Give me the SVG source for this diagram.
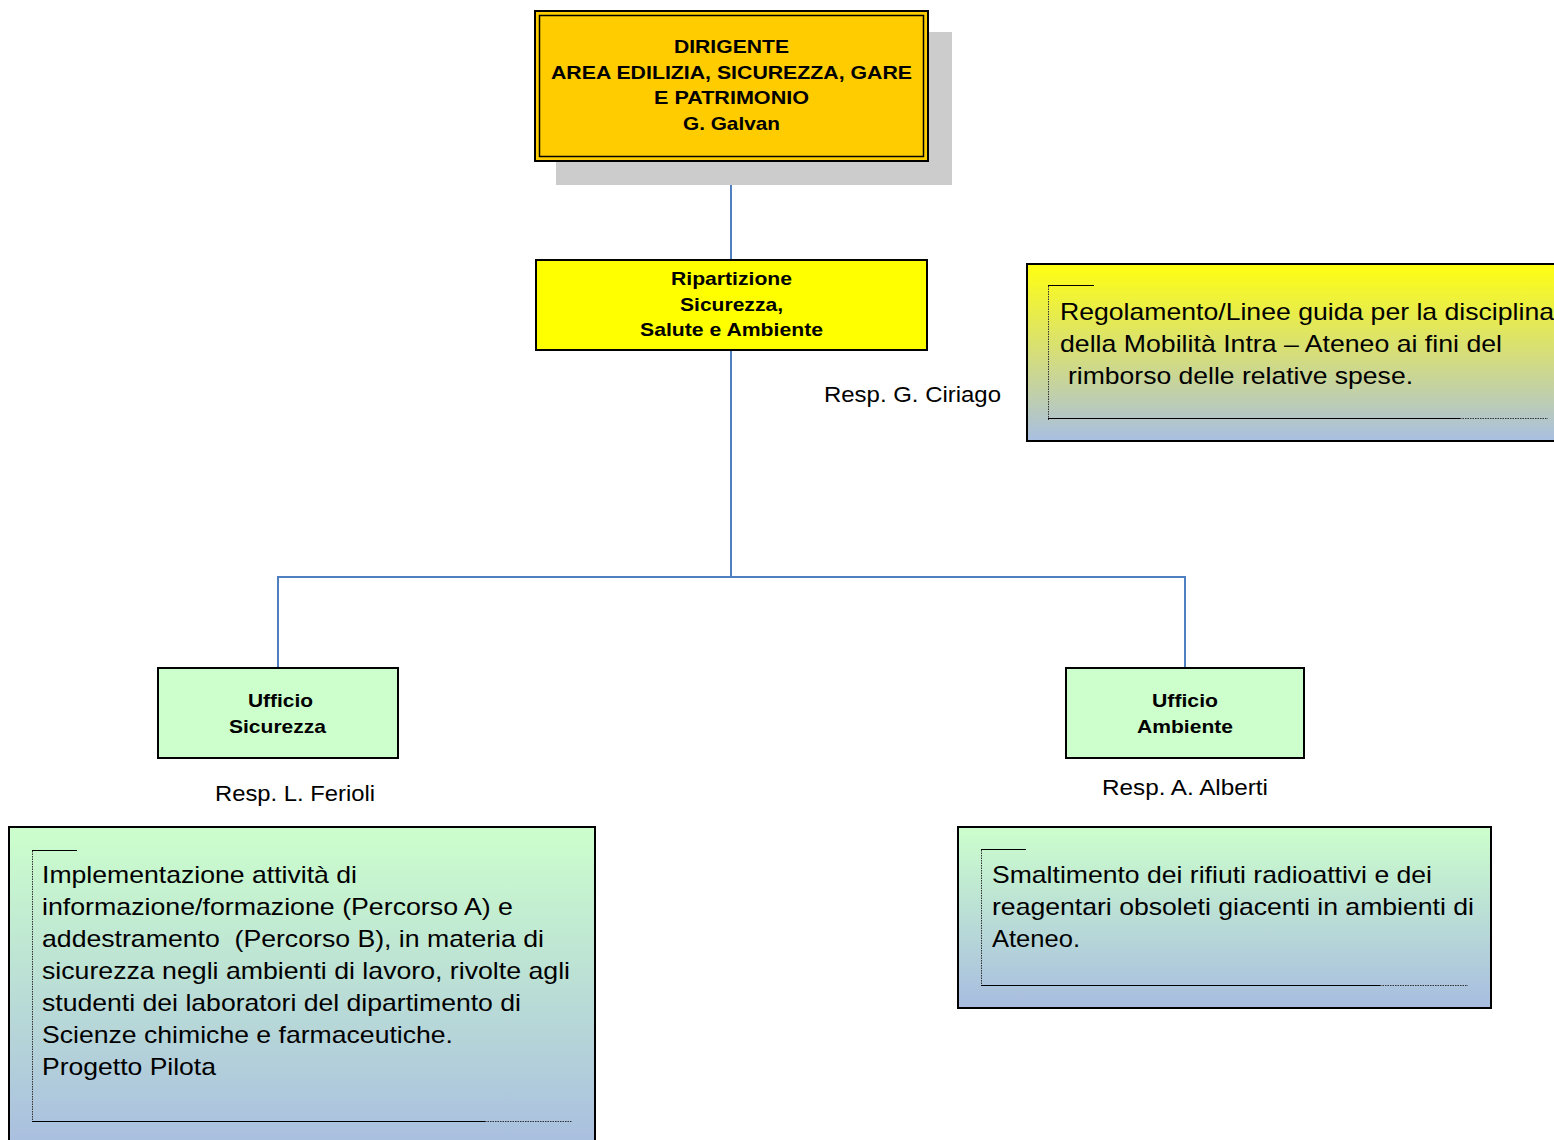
<svg xmlns="http://www.w3.org/2000/svg" width="1554" height="1140" viewBox="0 0 1554 1140">
<defs>
<linearGradient id="gY" x1="0" y1="0" x2="0" y2="1">
<stop offset="0" stop-color="#FFFF10"/>
<stop offset="0.5" stop-color="#D6DE78"/>
<stop offset="1" stop-color="#A8BFE2"/>
</linearGradient>
<linearGradient id="gG" x1="0" y1="0" x2="0" y2="1">
<stop offset="0" stop-color="#CCFFCC"/>
<stop offset="1" stop-color="#A8BCE0"/>
</linearGradient>
<style>
.b{font-family:"Liberation Sans",Arial,sans-serif;font-weight:bold;font-size:19px;fill:#000;text-anchor:middle}
.r{font-family:"Liberation Sans",Arial,sans-serif;font-size:22px;fill:#000}
.n{font-family:"Liberation Sans",Arial,sans-serif;font-size:24px;fill:#000}
.box{stroke:#000;stroke-width:2}
.conn{stroke:#4F7EC1;stroke-width:2;fill:none}
.sol{stroke:#000;stroke-width:1.2;fill:none}
.dot{stroke:#333;stroke-width:1;stroke-dasharray:1.5 1;fill:none}
</style>
</defs>

<g id="connectors">
<line class="conn" x1="731" y1="162" x2="731" y2="260"/>
<polyline class="conn" points="731,350 731,577"/>
<polyline class="conn" points="278,668 278,577 1185,577 1185,668"/>
</g>

<g id="dirigente">
<rect x="556" y="32" width="396" height="153" fill="#CCCCCC"/>
<rect x="535" y="11" width="393" height="150" fill="#FFCC00" stroke="#000" stroke-width="2"/>
<rect x="539.5" y="15.5" width="384" height="141" fill="none" stroke="#000" stroke-width="1.5"/>
<text class="b" x="731.5" y="53" textLength="115" lengthAdjust="spacingAndGlyphs">DIRIGENTE</text>
<text class="b" x="731.5" y="79" textLength="361" lengthAdjust="spacingAndGlyphs">AREA EDILIZIA, SICUREZZA, GARE</text>
<text class="b" x="731.5" y="104" textLength="155" lengthAdjust="spacingAndGlyphs">E PATRIMONIO</text>
<text class="b" x="731.5" y="130" textLength="97" lengthAdjust="spacingAndGlyphs">G. Galvan</text>
</g>

<g id="ripartizione">
<rect class="box" x="536" y="260" width="391" height="90" fill="#FFFF00"/>
<text class="b" x="731.5" y="285" textLength="121" lengthAdjust="spacingAndGlyphs">Ripartizione</text>
<text class="b" x="731.5" y="311" textLength="103" lengthAdjust="spacingAndGlyphs">Sicurezza,</text>
<text class="b" x="731.5" y="336" textLength="183" lengthAdjust="spacingAndGlyphs">Salute e Ambiente</text>
<text class="r" x="824" y="402" textLength="177" lengthAdjust="spacingAndGlyphs">Resp. G. Ciriago</text>
</g>

<g id="nota-mobilita">
<rect class="box" x="1027" y="264" width="540" height="177" fill="url(#gY)"/>
<line class="sol" x1="1048" y1="285.5" x2="1094" y2="285.5"/>
<line class="dot" x1="1048.5" y1="286" x2="1048.5" y2="420"/>
<line class="sol" x1="1048" y1="418.5" x2="1460" y2="418.5"/>
<line class="dot" x1="1460" y1="418.5" x2="1548" y2="418.5"/>
<text class="n" x="1060" y="320" textLength="494" lengthAdjust="spacingAndGlyphs">Regolamento/Linee guida per la disciplina</text>
<text class="n" x="1060" y="352" textLength="442" lengthAdjust="spacingAndGlyphs">della Mobilità Intra – Ateneo ai fini del</text>
<text class="n" x="1068" y="384" textLength="345" lengthAdjust="spacingAndGlyphs">rimborso delle relative spese.</text>
</g>

<g id="ufficio-sicurezza">
<rect class="box" x="158" y="668" width="240" height="90" fill="#CCFFCC"/>
<text class="b" x="280.5" y="707" textLength="65" lengthAdjust="spacingAndGlyphs">Ufficio</text>
<text class="b" x="277.5" y="733" textLength="97" lengthAdjust="spacingAndGlyphs">Sicurezza</text>
<text class="r" x="295" y="801" text-anchor="middle" textLength="160" lengthAdjust="spacingAndGlyphs">Resp. L. Ferioli</text>
</g>

<g id="ufficio-ambiente">
<rect class="box" x="1066" y="668" width="238" height="90" fill="#CCFFCC"/>
<text class="b" x="1185" y="707" textLength="66" lengthAdjust="spacingAndGlyphs">Ufficio</text>
<text class="b" x="1185" y="733" textLength="96" lengthAdjust="spacingAndGlyphs">Ambiente</text>
<text class="r" x="1185" y="795" text-anchor="middle" textLength="166" lengthAdjust="spacingAndGlyphs">Resp. A. Alberti</text>
</g>

<g id="nota-sicurezza">
<rect class="box" x="9" y="827" width="586" height="330" fill="url(#gG)"/>
<line class="sol" x1="32" y1="850.5" x2="77" y2="850.5"/>
<line class="dot" x1="32.5" y1="851" x2="32.5" y2="1122"/>
<line class="sol" x1="32" y1="1121.5" x2="485" y2="1121.5"/>
<line class="dot" x1="485" y1="1121.5" x2="572" y2="1121.5"/>
<text class="n" x="42" y="883" textLength="315" lengthAdjust="spacingAndGlyphs">Implementazione attività di</text>
<text class="n" x="42" y="915" textLength="471" lengthAdjust="spacingAndGlyphs">informazione/formazione (Percorso A) e</text>
<text class="n" x="42" y="947" xml:space="preserve" textLength="502" lengthAdjust="spacingAndGlyphs">addestramento  (Percorso B), in materia di</text>
<text class="n" x="42" y="979" textLength="528" lengthAdjust="spacingAndGlyphs">sicurezza negli ambienti di lavoro, rivolte agli</text>
<text class="n" x="42" y="1011" textLength="479" lengthAdjust="spacingAndGlyphs">studenti dei laboratori del dipartimento di</text>
<text class="n" x="42" y="1043" textLength="411" lengthAdjust="spacingAndGlyphs">Scienze chimiche e farmaceutiche.</text>
<text class="n" x="42" y="1075" textLength="174" lengthAdjust="spacingAndGlyphs">Progetto Pilota</text>
</g>

<g id="nota-ambiente">
<rect class="box" x="958" y="827" width="533" height="181" fill="url(#gG)"/>
<line class="sol" x1="981" y1="849.5" x2="1026" y2="849.5"/>
<line class="dot" x1="981.5" y1="850" x2="981.5" y2="986"/>
<line class="sol" x1="981" y1="985.5" x2="1380" y2="985.5"/>
<line class="dot" x1="1380" y1="985.5" x2="1468" y2="985.5"/>
<text class="n" x="992" y="883" textLength="440" lengthAdjust="spacingAndGlyphs">Smaltimento dei rifiuti radioattivi e dei</text>
<text class="n" x="992" y="915" textLength="482" lengthAdjust="spacingAndGlyphs">reagentari obsoleti giacenti in ambienti di</text>
<text class="n" x="992" y="947" textLength="88" lengthAdjust="spacingAndGlyphs">Ateneo.</text>
</g>
</svg>
